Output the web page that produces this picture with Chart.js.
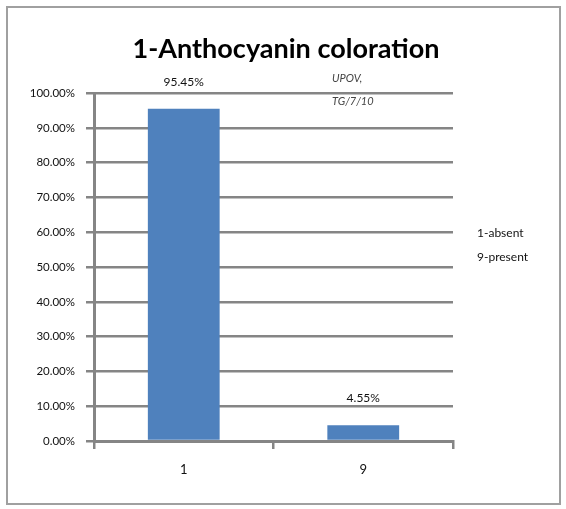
<!DOCTYPE html>
<html>
<head>
<meta charset="utf-8">
<script src="https://cdn.jsdelivr.net/npm/chart.js@4.4.0/dist/chart.umd.min.js"></script>
<style>
html,body{margin:0;padding:0;background:#fff;}
#wrap{position:relative;width:566px;height:509px;}
</style>
</head>
<body>
<div id="wrap"><canvas id="c" width="566" height="509"></canvas></div>
<script>
const categories = ['1', '9'];
const values = [0.9545, 0.0455];
const valueLabels = ['95.45%', '4.55%'];
const yTicks = [0, 0.1, 0.2, 0.3, 0.4, 0.5, 0.6, 0.7, 0.8, 0.9, 1.0];
const titleText = '1-Anthocyanin coloration';
const noteLines = ['UPOV,', 'TG/7/10'];
const legendLines = ['1-absent', '9-present'];

const FONT = 'Lato, "Open Sans", sans-serif';

const decor = {
  id: 'decor',
  beforeDraw(chart) {
    const ctx = chart.ctx;
    ctx.save();
    ctx.fillStyle = '#fff';
    ctx.fillRect(0, 0, chart.width, chart.height);
    ctx.strokeStyle = '#a0a0a0';
    ctx.lineWidth = 2;
    ctx.strokeRect(7, 7, 553, 497);
    ctx.restore();
  },
  afterDraw(chart) {
    const ctx = chart.ctx;
    ctx.save();
    // title
    ctx.fillStyle = '#000';
    ctx.font = 'bold 27px ' + FONT;
    ctx.textAlign = 'center';
    ctx.textBaseline = 'middle';
    ctx.fillText(titleText, 286, 49);
    // value labels
    ctx.font = '12px ' + FONT;
    ctx.fillStyle = '#111';
    const meta = chart.getDatasetMeta(0);
    meta.data.forEach((bar, i) => {
      ctx.fillText(valueLabels[i], bar.x, bar.y - 27);
    });
    // note
    ctx.font = 'italic 11px ' + FONT;
    ctx.fillStyle = '#444';
    ctx.textAlign = 'left';
    ctx.fillText(noteLines[0], 332, 78);
    ctx.fillText(noteLines[1], 332, 101);
    // legend text
    ctx.font = '12px ' + FONT;
    ctx.fillStyle = '#111';
    ctx.fillText(legendLines[0], 477, 233);
    ctx.fillText(legendLines[1], 477, 257);
    ctx.restore();
  }
};

new Chart(document.getElementById('c'), {
  type: 'bar',
  data: {
    labels: categories,
    datasets: [{
      data: values,
      backgroundColor: '#4f81bd',
      borderWidth: 0,
      categoryPercentage: 1.0,
      barPercentage: 0.4
    }]
  },
  options: {
    responsive: false,
    animation: false,
    events: [],
    layout: { padding: { left: 0, right: 113, top: 93, bottom: 0 } },
    plugins: {
      legend: { display: false },
      title: { display: false },
      tooltip: { enabled: false }
    },
    scales: {
      x: {
        afterFit(scale) { scale.height = 68; },
        grid: {
          drawOnChartArea: false,
          drawTicks: true,
          tickLength: 8,
          color: '#858585',
          lineWidth: 2.5,
          offset: true
        },
        border: { color: '#858585', width: 3 },
        ticks: {
          color: '#111',
          font: { family: FONT, size: 13 },
          padding: 13
        }
      },
      y: {
        min: 0,
        max: 1,
        afterFit(scale) { scale.width = 94; },
        afterBuildTicks(scale) { scale.ticks = yTicks.map(v => ({ value: v })); },
        grid: {
          color: '#858585',
          lineWidth: 2.5,
          tickLength: 8,
          drawTicks: true
        },
        border: { color: '#858585', width: 3 },
        ticks: {
          color: '#111',
          font: { family: FONT, size: 11.5 },
          padding: 11,
          callback: (v) => (v * 100).toFixed(2) + '%'
        }
      }
    }
  },
  plugins: [decor]
});
</script>
</body>
</html>
